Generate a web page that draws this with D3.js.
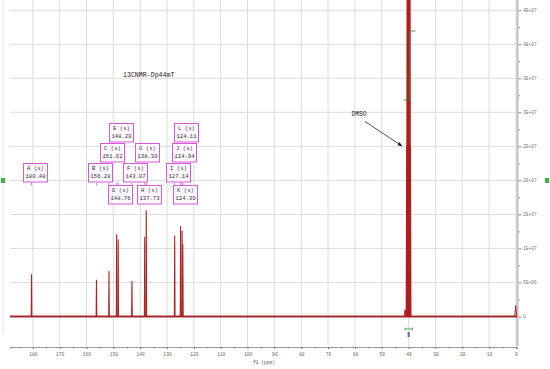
<!DOCTYPE html>
<html>
<head>
<meta charset="utf-8">
<script src="https://cdn.jsdelivr.net/npm/d3@7"></script>
<style>
  body { margin: 0; background: #fff; }
  text { font-family: "Liberation Mono", "DejaVu Sans Mono", monospace; }
</style>
</head>
<body>
<script>
const peakLetters = ['A', 'B', 'C', 'D', 'E', 'F', 'G', 'H', 'I', 'J', 'K', 'L']
const peakPpm = [180.48, 156.28, 151.62, 148.76, 148.20, 143.07, 138.30, 137.73, 127.14, 124.94, 124.39, 124.11]
const peakHeight = [6.2e6, 5.4e6, 6.7e6, 12.1e6, 11.3e6, 5.2e6, 11.7e6, 15.6e6, 11.9e6, 13.3e6, 12.6e6, 10.6e6]

const solventPpm = [40.63, 40.42, 40.21, 40.00, 39.79, 39.58, 39.37]
const solventHeight = [2.5e7, 7.5e7, 1.5e8, 1.75e8, 1.5e8, 7.5e7, 2.5e7]

const minorPpm = [41.3, 0.1]
const minorHeight = [1.0e6, 1.6e6]

const xTicks = d3.range(0, 181, 10)
const yTickValues = [0, 5e6, 1e7, 1.5e7, 2e7, 2.5e7, 3e7, 3.5e7, 4e7, 4.5e7]
const yTickLabels = ['0', '5E+06', '1E+07', '2E+07', '2E+07', '2E+07', '3E+07', '3E+07', '4E+07', '4E+07']

const title = '13CNMR-Dp44mT'
const xTitle = 'f1 (ppm)'

// label box layout (top-left corners)
const boxPos = {
  A: [23, 163], B: [88, 163], C: [100, 143], D: [108, 185], E: [109, 123], F: [123, 163],
  G: [135, 143], H: [137, 185], I: [166, 163], J: [172, 143], K: [173, 185], L: [174, 123]
}

const width = 550
const height = 369
const plot = {left: 10, right: 517, top: 0, bottom: 316.5, axisY: 347}

const svg = d3.select('body').append('svg')
  .attr('width', width)
  .attr('height', height)

const x = d3.scaleLinear()
  .domain([188.5, -0.4])
  .range([plot.left, plot.right])

const y = d3.scaleLinear()
  .domain([0, 46.5e6])
  .range([plot.bottom, plot.top])

svg.append('defs').append('clipPath').attr('id', 'clip')
  .append('rect')
  .attr('x', plot.left).attr('y', 0)
  .attr('width', plot.right - plot.left).attr('height', plot.axisY)

svg.append('defs').append('marker')
  .attr('id', 'arrow')
  .attr('viewBox', '0 0 10 10')
  .attr('refX', 9).attr('refY', 5)
  .attr('markerWidth', 6).attr('markerHeight', 6)
  .attr('orient', 'auto')
  .append('path')
  .attr('d', 'M0,1 L10,5 L0,9 Z')
  .attr('fill', '#222')

// grid
svg.append('g')
  .selectAll('line')
  .data(xTicks)
  .join('line')
  .attr('x1', d => x(d)).attr('x2', d => x(d))
  .attr('y1', 0).attr('y2', plot.axisY)
  .attr('stroke', '#dcdcdc')
  .attr('stroke-width', 1)

svg.append('g')
  .selectAll('line')
  .data(yTickValues)
  .join('line')
  .attr('x1', plot.left).attr('x2', plot.right)
  .attr('y1', d => y(d)).attr('y2', d => y(d))
  .attr('stroke', '#dcdcdc')
  .attr('stroke-width', 1)

svg.append('line')
  .attr('x1', 3).attr('x2', 3)
  .attr('y1', 0).attr('y2', 335)
  .attr('stroke', '#e4e4e4')

// x axis
const xAxis = d3.axisBottom(x)
  .tickValues(xTicks)
  .tickSize(2)
  .tickFormat(d3.format('d'))

const xAxisGroup = svg.append('g')
  .attr('transform', `translate(0,${plot.axisY})`)
  .call(xAxis)

xAxisGroup.select('.domain').attr('stroke', '#9a9a9a')
xAxisGroup.selectAll('.tick line').attr('stroke', '#777')
xAxisGroup.selectAll('.tick text')
  .attr('font-size', 4.6)
  .attr('fill', '#666')
  .attr('font-family', '"Liberation Mono", monospace')
  .attr('dy', '0.9em')

const xMinor = d3.axisBottom(x)
  .tickValues(d3.range(5, 190, 10))
  .tickSize(1.5)
  .tickFormat('')

svg.append('g')
  .attr('transform', `translate(0,${plot.axisY})`)
  .call(xMinor)
  .call(g => g.select('.domain').remove())
  .selectAll('.tick line').attr('stroke', '#777')

svg.append('text')
  .attr('x', 253).attr('y', 364)
  .attr('font-size', 4.6)
  .attr('fill', '#555')
  .text(xTitle)

// right y axis
svg.append('line')
  .attr('x1', plot.right + 0.5).attr('x2', plot.right + 0.5)
  .attr('y1', 0).attr('y2', 346)
  .attr('stroke', '#bdbdbd')
  .attr('stroke-width', 2)

const yAxis = d3.axisRight(y)
  .tickValues(yTickValues)
  .tickSize(3)
  .tickFormat((d, i) => yTickLabels[i])

const yAxisGroup = svg.append('g')
  .attr('transform', `translate(${plot.right + 1.5},0)`)
  .call(yAxis)

yAxisGroup.select('.domain').remove()
yAxisGroup.selectAll('.tick line').attr('stroke', '#888')
yAxisGroup.selectAll('.tick text')
  .attr('font-size', 4.6)
  .attr('fill', '#777')
  .attr('x', 4.5)
  .attr('font-family', '"Liberation Mono", monospace')

const yMinor = d3.axisRight(y)
  .tickValues(d3.range(2.5e6, 4.6e7, 5e6))
  .tickSize(1.5)
  .tickFormat('')

svg.append('g')
  .attr('transform', `translate(${plot.right + 1.5},0)`)
  .call(yMinor)
  .call(g => g.select('.domain').remove())
  .selectAll('.tick line').attr('stroke', '#888')

// spectrum
const spec = svg.append('g').attr('clip-path', 'url(#clip)')
const peakLine = d3.line().x(d => x(d[0])).y(d => y(d[1]))

spec.append('path')
  .attr('d', peakLine([[188.5, 0], [-0.4, 0]]))
  .attr('stroke', '#a5292b')
  .attr('stroke-width', 2.2)
  .attr('fill', 'none')

const stick = (ppm, h, w) => peakLine([[ppm + w, 0], [ppm, h], [ppm - w, 0]])

spec.append('g')
  .selectAll('path')
  .data(peakPpm)
  .join('path')
  .attr('d', (d, i) => stick(d, peakHeight[i], 0.12))
  .attr('stroke', '#a82424')
  .attr('stroke-width', 1.1)
  .attr('fill', 'none')

spec.append('g')
  .selectAll('path')
  .data(minorPpm)
  .join('path')
  .attr('d', (d, i) => stick(d, minorHeight[i], 0.35))
  .attr('stroke', '#a82424')
  .attr('stroke-width', 1)
  .attr('fill', 'none')

spec.append('g')
  .selectAll('path')
  .data(solventPpm)
  .join('path')
  .attr('d', (d, i) => stick(d, solventHeight[i], 0.2))
  .attr('stroke', '#b01e1e')
  .attr('stroke-width', 1.4)
  .attr('fill', 'none')

// integral marker on solvent
const mx = x(40.0) + 1
svg.append('path')
  .attr('d', `M${mx + 6},31 L${mx},31 L${mx},100 L${mx - 6},100`)
  .attr('stroke', '#3f7f3a')
  .attr('stroke-width', 0.8)
  .attr('fill', 'none')

svg.append('path')
  .attr('d', `M${x(41.3)},327.5 V330.5 M${x(41.3)},329 H${x(38.6)} M${x(38.6)},327.5 V330.5`)
  .attr('stroke', '#3a9a6a')
  .attr('stroke-width', 0.9)
  .attr('fill', 'none')

svg.append('rect')
  .attr('x', x(40.0) - 1).attr('y', 332)
  .attr('width', 2.2).attr('height', 5)
  .attr('fill', '#6a6ac8')

// title and solvent label
svg.append('text')
  .attr('x', 123).attr('y', 76.5)
  .attr('font-size', 6.6)
  .attr('fill', '#222')
  .text(title)

svg.append('text')
  .attr('x', 351.5).attr('y', 115.5)
  .attr('font-size', 6.3)
  .attr('fill', '#222')
  .text('DMSO')

svg.append('line')
  .attr('x1', 365).attr('y1', 121.5)
  .attr('x2', 402).attr('y2', 146)
  .attr('stroke', '#222')
  .attr('stroke-width', 0.8)
  .attr('marker-end', 'url(#arrow)')

// peak label boxes
const labels = svg.append('g')

labels.selectAll('line')
  .data(peakPpm)
  .join('line')
  .attr('x1', d => x(d)).attr('x2', d => x(d))
  .attr('y1', 182.5).attr('y2', 185.5)
  .attr('stroke', '#d060d0')
  .attr('stroke-width', 0.8)

const box = labels.selectAll('g')
  .data(peakLetters)
  .join('g')
  .attr('transform', d => `translate(${boxPos[d][0]},${boxPos[d][1]})`)

box.append('rect')
  .attr('x', 0.5).attr('y', 0.5)
  .attr('width', 24).attr('height', 18.5)
  .attr('fill', '#fff8ff')
  .attr('stroke', '#d65ad6')
  .attr('stroke-width', 1)

box.append('text')
  .attr('x', 12.5).attr('y', 7.2)
  .attr('text-anchor', 'middle')
  .attr('font-size', 5.6)
  .attr('fill', '#333')
  .text(d => `${d} (s)`)

box.append('text')
  .attr('x', 12.5).attr('y', 14.6)
  .attr('text-anchor', 'middle')
  .attr('font-size', 5.6)
  .attr('fill', '#333')
  .text((d, i) => peakPpm[i].toFixed(2))

// edge markers
svg.append('rect')
  .attr('x', 1).attr('y', 178)
  .attr('width', 4).attr('height', 5)
  .attr('fill', '#3cb04a')

svg.append('rect')
  .attr('x', 545).attr('y', 178)
  .attr('width', 4).attr('height', 5)
  .attr('fill', '#3cb04a')
</script>
</body>
</html>
